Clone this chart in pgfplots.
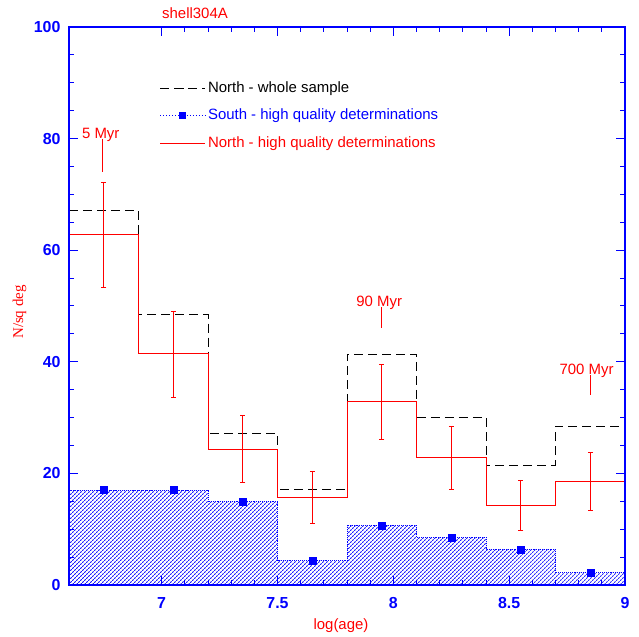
\documentclass[border=0pt]{standalone}
\usepackage{pgfplots}
\usepackage{pgfplotstable}
\pgfplotsset{compat=1.18}
\usepackage{fontspec}
\setmainfont{Liberation Sans}
\newfontfamily\seriffont{Liberation Serif}
\usetikzlibrary{patterns.meta}

% Counts per square degree in bins of 0.3 in log(age)
\pgfplotstableread{
x     north  whole  ep    em    south
6.75  62.9   67.1   9.3   9.5   17.0
7.05  41.5   48.5   7.6   7.8   17.0
7.35  24.2   27.2   6.1   5.8   14.9
7.65  15.7   17.1   4.7   4.7   4.35
7.95  32.8   41.4   6.8   6.8   10.7
8.25  22.9   30.0   5.6   5.8   8.55
8.55  14.3   21.5   4.45  4.45  6.4
8.85  18.6   28.5   5.1   5.2   2.2
}\bins

\begin{document}
\begin{tikzpicture}
\begin{axis}[
  name=ax,
  scale only axis,
  width=556bp, height=558bp,
  xmin=6.6, xmax=9.0, ymin=0, ymax=100,
  xtick={7,7.5,8,8.5,9}, xticklabels={7,7.5,8,8.5,9},
  minor x tick num=4,
  ytick={0,20,40,60,80,100}, yticklabels={0,20,40,60,80,100},
  minor y tick num=3,
  tick align=inside,
  major tick length=9bp, minor tick length=5bp,
  axis line style={blue, line width=2.4bp},
  tick style={blue, line width=1bp},
  ticklabel style={font=\fontsize{16}{16}\selectfont\bfseries, text=blue},
  /pgf/number format/assume math mode=true,
  xticklabel shift=9bp, yticklabel shift=5bp,
  axis on top,
  legend image code/.code={\draw[mark repeat=2,mark phase=2,#1] plot coordinates {(0bp,0bp) (22.5bp,0bp) (45bp,0bp)};},
  legend style={at={(axis cs:6.99,90.6)}, anchor=north west, draw=none, fill=none,
    inner sep=0pt, row sep=10.5bp, column sep=1bp,
    font=\fontsize{15}{15}\selectfont,
    nodes={inner sep=1.5bp, text height=11bp, text depth=3bp}},
  legend cell align=left,
]
% legend
\addlegendimage{black, dash pattern=on 9bp off 5bp, line width=0.8bp}
\addlegendentry{North - whole sample}
\addlegendimage{blue, dotted, line width=1bp, mark=square*, mark size=3bp, mark options={solid}}
\addlegendentry{\textcolor{blue}{South - high quality determinations}}
\addlegendimage{red, line width=1bp}
\addlegendentry{\textcolor{red}{North - high quality determinations}}

% South, high quality: hatched histogram
\addplot[const plot mark left, blue, densely dotted, line width=0.9bp,
  pattern={Lines[angle=45, distance=2.828bp, line width=0.8bp]}, pattern color=blue, forget plot]
  coordinates {(6.6,17.0)(6.9,17.0)(7.2,14.9)(7.5,4.35)(7.8,10.7)(8.1,8.55)(8.4,6.4)(8.7,2.2)(9.0,2.2)} \closedcycle;

% North, whole sample
\addplot[const plot mark left, black, dash pattern=on 9bp off 5bp, line width=0.8bp, forget plot]
  coordinates {(6.6,67.1)(6.9,48.5)(7.2,27.2)(7.5,17.1)(7.8,41.4)(8.1,30.0)(8.4,21.5)(8.7,28.5)(9.0,28.5)(9.0,0)};

% North, high quality
\addplot[const plot mark left, red, line width=1bp, forget plot]
  coordinates {(6.6,62.9)(6.9,41.5)(7.2,24.2)(7.5,15.7)(7.8,32.8)(8.1,22.9)(8.4,14.3)(8.7,18.6)(9.0,18.6)(9.0,0)};

% error bars of the high quality North counts
\addplot[draw=none, mark=none, forget plot,
  error bars/.cd, y dir=both, y explicit,
  error bar style={draw=red, solid, line width=0.9bp},
  error mark options={draw=red, solid, rotate=90, mark size=2.5bp, line width=0.9bp}]
  table[x=x, y=north, y error plus=ep, y error minus=em] {\bins};

% South markers
\addplot[only marks, mark=square*, mark size=3.5bp, blue, forget plot]
  table[x=x, y=south] {\bins};

% age markers
\addplot[red, line width=1bp, forget plot] coordinates {(6.745,80.0)(6.745,74.0)};
\addplot[red, line width=1bp, forget plot] coordinates {(7.949,49.8)(7.949,46.0)};
\addplot[red, line width=1bp, forget plot] coordinates {(8.849,37.7)(8.849,34.0)};
\node[red, anchor=base, inner sep=0pt, font=\fontsize{15}{15}\selectfont] at (axis cs:6.737,80.1) {5 Myr};
\node[red, anchor=base, inner sep=0pt, font=\fontsize{15}{15}\selectfont] at (axis cs:7.939,49.9) {90 Myr};
\node[red, anchor=base, inner sep=0pt, font=\fontsize{15}{15}\selectfont] at (axis cs:8.834,37.8) {700 Myr};
\end{axis}

\node[red, font=\fontsize{15}{15}\selectfont] at ([xshift=126bp, yshift=14bp]ax.north west) {shell304A};
\node[red, rotate=90, font=\seriffont\fontsize{15}{15}\selectfont] at ([xshift=-49.5bp, yshift=-6bp]ax.west) {N/sq deg};
\node[red, font=\fontsize{15}{15}\selectfont] at ([xshift=-6bp, yshift=-41bp]ax.south) {log(age)};

\pgfresetboundingbox
\path ([shift={(-69bp,-52bp)}]ax.south west) rectangle ([shift={(14bp,27bp)}]ax.north east);
\end{tikzpicture}
\end{document}
